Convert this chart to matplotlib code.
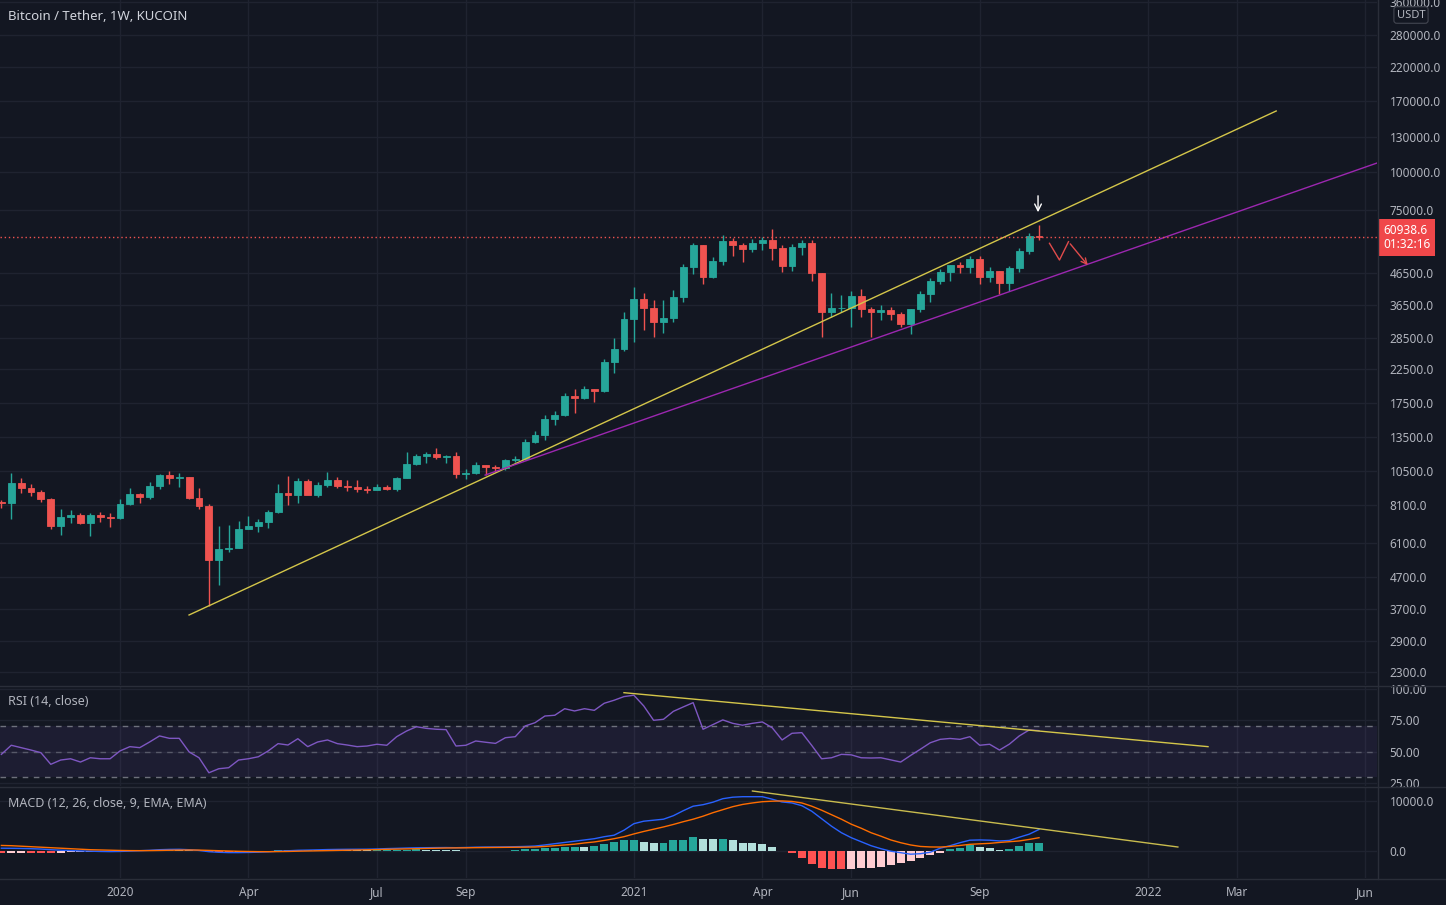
import numpy as np
import pandas as pd
import matplotlib.pyplot as plt
from matplotlib.lines import Line2D
from matplotlib.ticker import FixedLocator, FixedFormatter, NullLocator, NullFormatter
import matplotlib.transforms as mtransforms

plt.rcParams['font.family'] = ['Noto Sans', 'DejaVu Sans']

# weekly candles, first bar = week of 2019-10-14
start = pd.Timestamp("2019-10-14")
opens = [8280, 8230, 9530, 9200, 8950, 8500, 6900, 7400, 7530, 7100,
         7510, 7390, 7350, 8180, 8780, 8600, 9370, 10180, 9920, 9970,
         8530, 8030, 5360, 5810, 5880, 6770, 6900, 7120, 7700, 8900,
         8720, 9680, 8720, 9450, 9750, 9380, 9300, 9140, 9070, 9290,
         9170, 9930, 11050, 11690, 11910, 11650, 11710, 10250, 10330, 10930,
         10780, 10670, 11370, 11500, 13030, 13740, 15480, 15960, 18400, 18180,
         19360, 19170, 23860, 26280, 33000, 38150, 35800, 32260, 33100, 38870,
         48580, 57410, 45140, 50970, 59130, 57350, 55800, 58200, 59770, 56200,
         49100, 56600, 58200, 46400, 34700, 35650, 35800, 39100, 35600, 34700,
         35300, 34250, 31780, 35400, 39850, 43800, 47050, 49300, 48800, 51750,
         45200, 47250, 43200, 48200, 54950, 61500]
highs = [8420, 10350, 9950, 9480, 9100, 8550, 7850, 7800, 7650, 7600,
         7700, 7650, 8470, 9190, 8850, 9600, 10250, 10500, 10300, 9990,
         9190, 8180, 6900, 6980, 7200, 7470, 7300, 7780, 9470, 10070,
         9950, 9850, 9600, 10420, 10000, 9780, 9790, 9380, 9470, 9400,
         10000, 12100, 11900, 12100, 12470, 11800, 12080, 10600, 11180, 10990,
         10950, 11440, 11720, 13350, 14100, 15960, 16480, 18800, 19480, 19920,
         19420, 24300, 28420, 34800, 41950, 40100, 37850, 38000, 40950, 49700,
         58350, 57500, 52650, 61800, 60600, 58400, 60000, 61200, 64850, 57500,
         57950, 59500, 59600, 46700, 40000, 39500, 40700, 41300, 36000, 36600,
         35950, 34650, 35400, 40550, 44700, 48100, 49400, 50500, 52950, 52900,
         48850, 47350, 49250, 56100, 62900, 67000]
lows = [7950, 7300, 8900, 8650, 8300, 6770, 6450, 7050, 7000, 6430,
        7130, 6870, 7300, 8100, 8230, 8450, 9120, 9500, 9300, 8450,
        7850, 3780, 4440, 5700, 5850, 6760, 6600, 6800, 7600, 8120,
        8200, 8800, 8630, 9280, 9220, 9000, 8950, 8900, 9050, 9050,
        9000, 9900, 10950, 11150, 11500, 11150, 9900, 9880, 10200, 10130,
        10370, 10530, 11180, 11400, 12950, 13200, 14800, 15800, 16200, 18000,
        17600, 19000, 21900, 25900, 27700, 30400, 28800, 29700, 32300, 37350,
        46200, 43000, 44950, 49300, 53000, 50400, 54600, 55400, 51300, 47000,
        47100, 53400, 43800, 28800, 33400, 34800, 31100, 33300, 28800, 32700,
        32700, 31100, 29300, 34800, 37500, 42800, 43950, 46400, 46700, 42800,
        43400, 39600, 40700, 46900, 53900, 59500]
closes = [8230, 9530, 9200, 8950, 8500, 6900, 7400, 7530, 7100, 7510,
          7390, 7350, 8180, 8780, 8600, 9370, 10180, 9920, 9970, 8530,
          8030, 5360, 5810, 5880, 6770, 6900, 7120, 7700, 8900, 8720,
          9680, 8720, 9450, 9750, 9380, 9300, 9140, 9070, 9290, 9170,
          9930, 11050, 11690, 11910, 11650, 11710, 10250, 10330, 10930, 10780,
          10670, 11370, 11500, 13030, 13740, 15480, 15960, 18400, 18180, 19360,
          19170, 23860, 26280, 33000, 38150, 35800, 32260, 33100, 38870, 48580,
          57410, 45140, 50970, 59130, 57350, 55800, 58200, 59770, 56200, 49100,
          56600, 58200, 46400, 34700, 35650, 35800, 39100, 35600, 34700, 35300,
          34250, 31780, 35400, 39850, 43800, 47050, 49300, 48800, 51750, 45200,
          47250, 43200, 48200, 54950, 61500, 60938.6]

rsi = [47.9, 55.1, 53.2, 51.3, 49.2, 40.0, 43.4, 44.4, 41.8, 45.2,
       44.4, 44.4, 50.6, 54.0, 53.2, 57.7, 62.5, 60.6, 60.6, 49.8,
       45.2, 33.3, 36.5, 37.3, 43.4, 44.4, 46.0, 50.6, 56.4, 55.3,
       60.3, 54.0, 57.7, 59.3, 56.4, 55.3, 54.0, 54.5, 55.9, 55.1,
       61.9, 66.4, 69.8, 68.5, 67.8, 67.5, 54.5, 55.1, 58.5, 57.5,
       56.6, 61.1, 61.9, 70.4, 73.0, 78.3, 78.9, 84.1, 82.3, 84.1,
       82.8, 88.4, 90.8, 93.7, 94.8, 86.3, 74.9, 75.7, 82.0, 85.5,
       88.9, 67.8, 71.5, 75.2, 72.5, 71.0, 72.5, 73.6, 69.0, 59.3,
       64.6, 65.1, 55.0, 44.4, 45.2, 47.9, 47.5, 45.2, 45.0, 45.2,
       43.5, 41.8, 47.0, 52.0, 57.1, 59.8, 60.5, 59.8, 61.9, 55.1,
       55.9, 51.3, 56.0, 62.5, 67.2, 66.7]

macd = [500, 480, 450, 400, 330, 200, 100, 30, -50, -100,
        -150, -180, -150, -80, 0, 80, 200, 260, 280, 200,
        50, -200, -320, -380, -380, -350, -300, -220, -100, -20,
        80, 120, 170, 230, 260, 280, 290, 300, 350, 420,
        470, 530, 580, 600, 620, 630, 600, 640, 700, 730,
        740, 760, 800, 850, 930, 1150, 1400, 1650, 1900, 2150,
        2400, 2800, 3100, 4100, 5400, 5900, 6100, 6300, 7000, 8000,
        8900, 9200, 9700, 10400, 10700, 10800, 10800, 10800, 10300, 9750,
        9550, 9000, 7900, 6400, 4900, 3600, 2600, 1800, 1000, 400,
        -100, -400, -700, -600, -300, 500, 1000, 1600, 2100, 2150,
        2100, 1950, 2050, 2700, 3300, 4250]
signal = [1050, 1000, 900, 800, 700, 600, 500, 400, 300, 200,
          150, 100, 50, 20, 10, 20, 50, 90, 120, 140,
          120, 60, 0, -60, -120, -160, -190, -200, -180, -150,
          -100, -60, -20, 20, 60, 100, 140, 180, 220, 280,
          320, 360, 400, 450, 500, 540, 560, 580, 610, 630,
          650, 670, 690, 710, 740, 850, 1000, 1150, 1300, 1550,
          1750, 2050, 2400, 2800, 3350, 3850, 4300, 4750, 5250, 5800,
          6300, 6900, 7600, 8200, 8800, 9250, 9550, 9800, 9900, 9950,
          9850, 9550, 8900, 8100, 7200, 6300, 5300, 4500, 3600, 2900,
          2150, 1600, 1150, 850, 750, 730, 850, 1050, 1270, 1380,
          1470, 1650, 1800, 1950, 2250, 2600]
hist = [-500, -450, -400, -400, -450, -500, -450, -350, -300, -200,
        -100, -50, 50, 100, 120, 150, 200, 200, 180, 80,
        -50, -200, -250, -250, -200, -200, -150, -100, 50, 100,
        150, 150, 150, 180, 150, 130, 100, 80, 100, 100,
        150, 200, 250, 200, 150, 100, 50, -20, -30, -50,
        -40, 30, 100, 300, 400, 500, 600, 750, 800, 750,
        1000, 1300, 1800, 2100, 2100, 1800, 1500, 1500, 2100, 2200,
        2700, 2400, 2300, 2400, 2100, 1600, 1500, 1300, 800, -150,
        -450, -1400, -2700, -3400, -3700, -3700, -3600, -3500, -3400, -3200,
        -2900, -2500, -2000, -1500, -900, -400, 300, 600, 1100, 800,
        500, 200, 400, 900, 1500, 1600]

price_ticks = [360000, 280000, 220000, 170000, 130000, 100000, 75000, 46500, 36500,
               28500, 22500, 17500, 13500, 10500, 8100, 6100, 4700, 3700, 2900, 2300]
price_labels = ["%.1f" % v for v in price_ticks]
rsi_ticks = [100, 75, 50, 25]
rsi_labels = ["100.00", "75.00", "50.00", "25.00"]
macd_ticks = [10000, 0]
macd_labels = ["10000.0", "0.0"]

tick_dates = ["2020-01-06", "2020-04-06", "2020-07-06", "2020-09-07", "2021-01-04",
              "2021-04-05", "2021-06-07", "2021-09-06", "2022-01-03", "2022-03-07",
              "2022-06-06"]
tick_labels = ["2020", "Apr", "Jul", "Sep", "2021", "Apr", "Jun", "Sep", "2022", "Mar", "Jun"]

# drawings (bar index, value)
trend_yellow = [(18.99, 3536), (129.0, 157900)]
trend_purple = [(48.95, 10150), (141.0, 111800)]
rsi_trend = [(63.0, 96.8), (122.1, 54.0)]
macd_trend = [(76.0, 11940), (119.05, 740)]
zigzag = [(106.06, 58240), (107.07, 51350), (107.98, 58940), (110.11, 48600)]
down_arrow = [(104.9, 85070), (104.9, 72080)]

bg = '#131722'
grid_c = '#1f2330'
sep_c = '#2A2E39'
txt = '#B2B5BE'
up_c = '#26A69A'
dn_c = '#EF5350'

W, H = 1446, 905
fig = plt.figure(figsize=(W / 100, H / 100), dpi=100)
fig.patch.set_facecolor(bg)


def frame(top, bottom):
    return [0, 1 - bottom / H, 1377 / W, (bottom - top) / H]


ax_p = fig.add_axes(frame(0, 685))
ax_r = fig.add_axes(frame(686, 786), sharex=ax_p)
ax_m = fig.add_axes(frame(787, 878), sharex=ax_p)

x = np.arange(len(closes))
o = np.array(opens, float)
c = np.array(closes, float)
cols = [up_c if cc >= oo else dn_c for oo, cc in zip(o, c)]

for ax in (ax_p, ax_r, ax_m):
    ax.set_facecolor(bg)
    for s in ax.spines.values():
        s.set_visible(False)
    ax.set_axisbelow(True)
    ax.grid(True, color=grid_c, lw=1)
    ax.yaxis.tick_right()
    ax.tick_params(axis='both', length=0, labelsize=8.5, labelcolor=txt)
    ax.tick_params(axis='y', pad=9)
    ax.tick_params(axis='x', labelbottom=False)

# price pane
ax_p.set_yscale('log')
ax_p.vlines(x, lows, highs, colors=cols, lw=1)
ax_p.bar(x, np.abs(c - o), bottom=np.minimum(o, c), width=0.7, color=cols,
         edgecolor=cols, linewidth=0.6)
ax_p.set_ylim(2086, 364500)
ax_p.yaxis.set_major_locator(FixedLocator(price_ticks))
ax_p.yaxis.set_major_formatter(FixedFormatter(price_labels))
ax_p.yaxis.set_minor_locator(NullLocator())
ax_p.yaxis.set_minor_formatter(NullFormatter())

ax_p.plot(*zip(*trend_yellow), color='#D4C64A', lw=1)
ax_p.plot(*zip(*trend_purple), color='#9C27B0', lw=1)
ax_p.plot(*zip(*zigzag[:-1]), color='#E04B4B', lw=1)
ax_p.annotate('', xy=zigzag[-1], xytext=zigzag[-2],
              arrowprops=dict(arrowstyle='->', color='#E04B4B', lw=1, mutation_scale=10))
ax_p.annotate('', xy=down_arrow[1], xytext=down_arrow[0],
              arrowprops=dict(arrowstyle='->', color='white', lw=1, mutation_scale=12))

last = closes[-1]
ax_p.axhline(last, color=dn_c, lw=1, ls=(0, (1, 2)))
trans = mtransforms.blended_transform_factory(ax_p.transAxes, ax_p.transData)
ax_p.text(1.0 + 6 / 1377, last, "%.1f\n01:32:16" % last, transform=trans, ha='left',
          va='center', fontsize=8.5, color='white', linespacing=1.15,
          bbox=dict(boxstyle='square,pad=0.4', facecolor='#F0474A', edgecolor='none'))

# RSI pane
ax_r.axhspan(30, 70, color='#7E57C2', alpha=0.1, lw=0)
for lvl in (70, 50, 30):
    ax_r.axhline(lvl, color='#787B86', lw=1, ls=(0, (4, 4)), alpha=0.9 if lvl != 50 else 0.6)
ax_r.plot(x, rsi, color='#7E57C2', lw=1)
ax_r.plot(*zip(*rsi_trend), color='#D4C64A', lw=1)
ax_r.set_ylim(22.8, 102.1)
ax_r.set_yticks(rsi_ticks, rsi_labels)

# MACD pane
h = np.array(hist, float)
hcols = []
for i, v in enumerate(h):
    prev = h[i - 1] if i > 0 else v
    if v >= 0:
        hcols.append('#26A69A' if v >= prev else '#B2DFDB')
    else:
        hcols.append('#FFCDD2' if v > prev else '#FF5252')
ax_m.bar(x, h, width=0.8, color=hcols, linewidth=0)
ax_m.plot(x, macd, color='#2962FF', lw=1)
ax_m.plot(x, signal, color='#FF6D00', lw=1)
ax_m.plot(*zip(*macd_trend), color='#C9BC4E', lw=1)
ax_m.set_ylim(-5460, 12740)
ax_m.set_yticks(macd_ticks, macd_labels)

tick_pos = [(pd.Timestamp(d) - start).days / 7 for d in tick_dates]
ax_m.set_xticks(tick_pos, tick_labels)
ax_m.tick_params(axis='x', labelbottom=True, pad=6, labelcolor=txt)
for lab in ax_m.get_xticklabels():
    if lab.get_text().isdigit():
        lab.set_fontweight('bold')
ax_m.set_xlim(-0.14, 139.2)

# separators and labels
for yy in (685.5, 786.5, 878.5):
    fig.add_artist(Line2D([0, 1], [1 - yy / H] * 2, color=sep_c, lw=1))
fig.add_artist(Line2D([1377.5 / W] * 2, [1 - 878.5 / H, 1], color=sep_c, lw=1))

fig.text(8 / W, 1 - 16 / H, "Bitcoin / Tether, 1W, KUCOIN", fontsize=9.5,
         color='#D1D4DC', va='center', ha='left')
fig.text(8 / W, 1 - 701 / H, "RSI (14, close)", fontsize=9, color=txt, va='center')
fig.text(8 / W, 1 - 803 / H, "MACD (12, 26, close, 9, EMA, EMA)", fontsize=9,
         color=txt, va='center')
fig.text(1411 / W, 1 - 15 / H, "USDT", fontsize=8, color=txt, ha='center', va='center',
         bbox=dict(boxstyle='round,pad=0.25', facecolor=bg, edgecolor='#434651', lw=0.8))

fig.savefig("out.png", dpi=100, facecolor=bg)
